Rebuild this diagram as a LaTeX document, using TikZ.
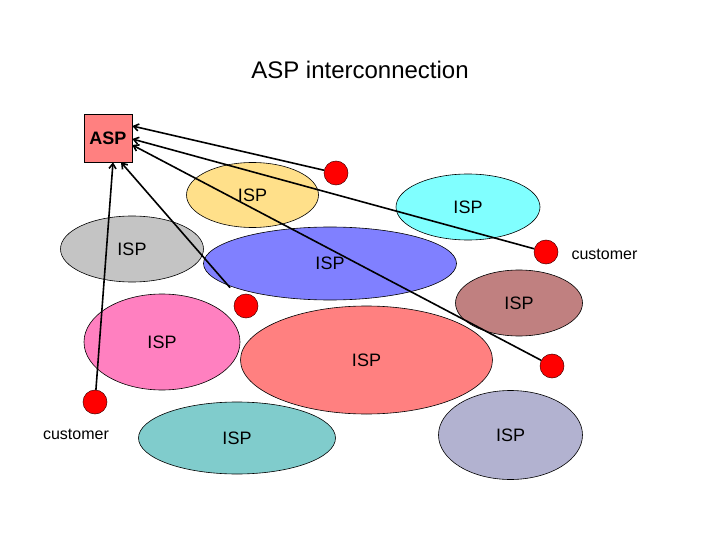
\documentclass[tikz,border=0pt]{standalone}
\usepackage{fontspec}
\setmainfont{Liberation Sans}
\usetikzlibrary{shapes.geometric,arrows.meta}
\definecolor{ispyellow}{HTML}{FFE08A}
\definecolor{ispgray}{HTML}{C4C4C4}
\definecolor{ispblue}{HTML}{8080FF}
\definecolor{ispcyan}{HTML}{80FFFF}
\definecolor{ispbrown}{HTML}{C08080}
\definecolor{ispsalmon}{HTML}{FF8080}
\definecolor{isppink}{HTML}{FF80C0}
\definecolor{ispteal}{HTML}{80CCCC}
\definecolor{isplav}{HTML}{B2B2D0}
\tikzset{
  isp/.style={ellipse,draw=black,line width=0.6pt,inner sep=0pt,font=\fontsize{18}{20}\selectfont},
  cust/.style={circle,draw=black!70!red,fill=red,line width=0.5pt,minimum size=24pt,inner sep=0pt},
  link/.style={line width=1.6pt,-{Straight Barb[length=5pt,width=7pt]}}
}
\begin{document}
\begin{tikzpicture}[x=1pt,y=-1pt]
    \useasboundingbox[fill=white] (0,0) rectangle (720,540);
    \node (title) at (360,70) {\fontsize{24}{28}\selectfont ASP interconnection};
    % ISPs
    \node[isp,fill=ispyellow,minimum width=132pt,minimum height=65pt] (yel) at (252.5,195) {ISP};
    \node[isp,fill=ispblue,minimum width=253pt,minimum height=73pt] (blu) at (330,263.5) {ISP};
    \node[isp,fill=ispgray,minimum width=143pt,minimum height=66pt] (gry) at (132,249) {ISP};
    \node[isp,fill=ispcyan,minimum width=144pt,minimum height=66pt] (cya) at (468,207) {ISP};
    \node[isp,fill=ispbrown,minimum width=127pt,minimum height=66pt] (brn) at (519,303) {ISP};
    \node[isp,fill=ispsalmon,minimum width=252pt,minimum height=108pt] (sal) at (366.5,360) {ISP};
    \node[isp,fill=isppink,minimum width=156pt,minimum height=96pt] (pnk) at (162,342) {ISP};
    \node[isp,fill=ispteal,minimum width=197pt,minimum height=72pt] (tea) at (237,438) {ISP};
    \node[isp,fill=isplav,minimum width=144pt,minimum height=89pt] (lav) at (510.5,435) {ISP};
    % ASP and customers
    \node[draw=black,fill=ispsalmon,line width=0.6pt,minimum size=48pt,inner sep=0pt,font=\fontsize{18}{20}\selectfont\bfseries] (asp) at (108,138) {ASP};
    \node[cust] (d1) at (336,173) {};
    \node[cust] (d2) at (546,252) {};
    \node[cust] (d3) at (246,306) {};
    \node[cust] (d4) at (552,366) {};
    \node[cust] (d5) at (95,402) {};
    \node[anchor=west,font=\fontsize{16}{18}\selectfont] (lbl2) at (568,254) {customer};
    \node[font=\fontsize{16}{18}\selectfont] (lbl5) at (76,434) {customer};
    % connections to the ASP
    \draw[link] (d1) -- ([yshift=12pt]asp.east);
    \draw[link] (d2) -- ([yshift=-1pt]asp.east);
    \draw[link] (d4) -- ([yshift=-7pt]asp.east);
    \draw[link,shorten <=12pt] (d3) -- ([xshift=13pt]asp.south);
    \draw[link] (d5) -- ([xshift=5pt]asp.south);
\end{tikzpicture}
\end{document}
